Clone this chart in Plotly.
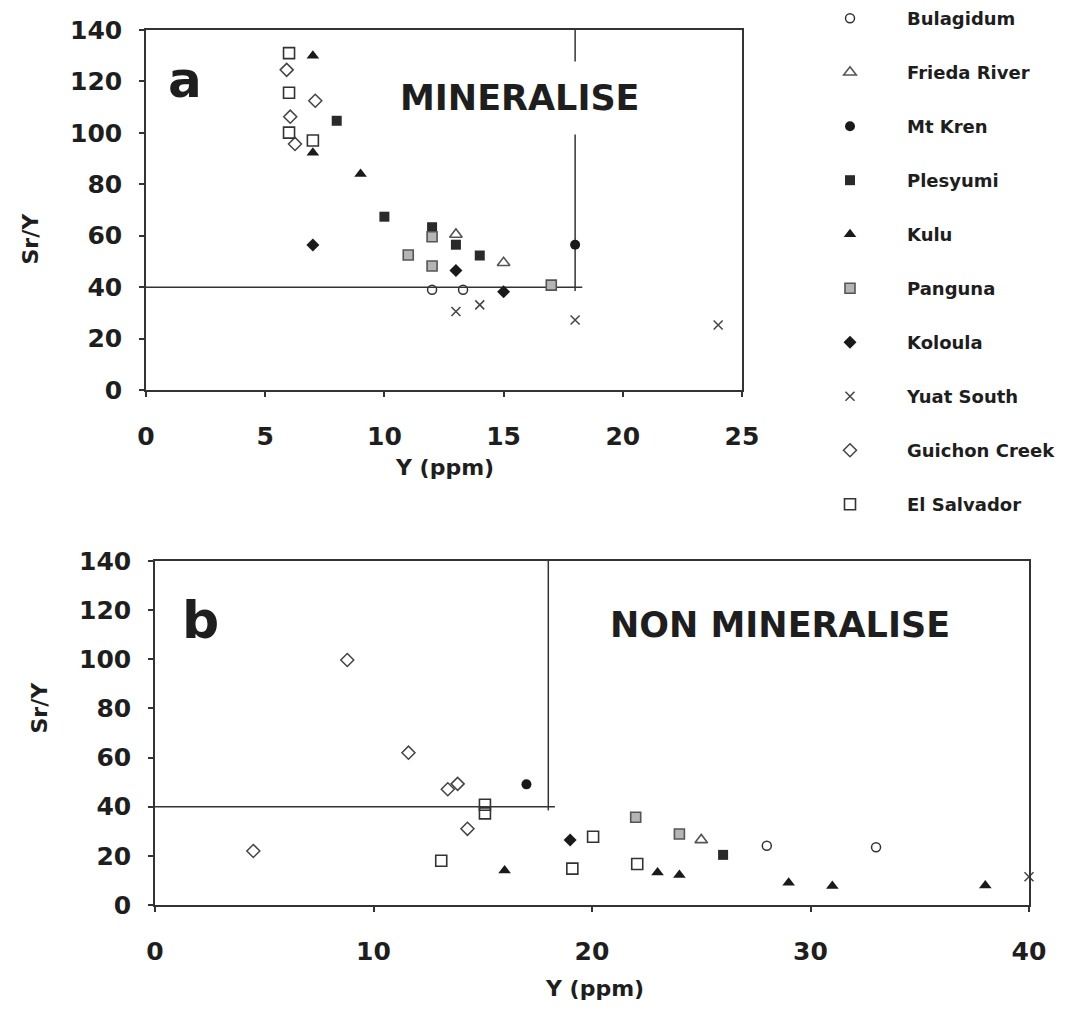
import plotly.graph_objects as go

# ---------------- data ----------------
SERIES = ["Bulagidum", "Frieda River", "Mt Kren", "Plesyumi", "Kulu",
          "Panguna", "Koloula", "Yuat South", "Guichon Creek", "El Salvador"]

# Panel a (mineralised)  -- x: Y (ppm), y: Sr/Y
a_bulagidum_x = [12.0, 13.3]
a_bulagidum_y = [39.0, 39.0]
a_frieda_x = [13.0, 15.0]
a_frieda_y = [60.5, 49.5]
a_mtkren_x = [18.0]
a_mtkren_y = [56.5]
a_plesyumi_x = [8.0, 10.0, 12.0, 13.0, 14.0]
a_plesyumi_y = [104.7, 67.4, 63.3, 56.5, 52.3]
a_kulu_x = [7.0, 7.0, 9.0]
a_kulu_y = [130.0, 92.3, 84.0]
a_panguna_x = [11.0, 12.0, 12.0, 17.0]
a_panguna_y = [52.5, 59.6, 48.2, 40.8]
a_koloula_x = [7.0, 13.0, 15.0]
a_koloula_y = [56.4, 46.5, 38.2]
a_yuat_x = [13.0, 14.0, 18.0, 24.0]
a_yuat_y = [30.5, 33.1, 27.2, 25.3]
a_guichon_x = [5.9, 7.1, 6.05, 6.25]
a_guichon_y = [124.5, 112.5, 106.3, 95.7]
a_salvador_x = [6.0, 6.0, 6.0, 7.0]
a_salvador_y = [131.0, 115.6, 100.1, 97.0]

# Panel b (non mineralised)
b_bulagidum_x = [28.0, 33.0]
b_bulagidum_y = [24.1, 23.5]
b_frieda_x = [25.0]
b_frieda_y = [26.5]
b_mtkren_x = [17.0]
b_mtkren_y = [49.1]
b_plesyumi_x = [26.0]
b_plesyumi_y = [20.4]
b_kulu_x = [16.0, 23.0, 24.0, 29.0, 31.0, 38.0]
b_kulu_y = [14.0, 13.2, 12.2, 9.1, 7.7, 7.9]
b_panguna_x = [22.0, 24.0]
b_panguna_y = [35.7, 28.9]
b_koloula_x = [19.0]
b_koloula_y = [26.5]
b_yuat_x = [40.0]
b_yuat_y = [11.5]
b_guichon_x = [4.5, 8.8, 11.6, 13.4, 13.85, 14.3]
b_guichon_y = [22.0, 99.7, 62.0, 47.1, 49.3, 31.0]
b_salvador_x = [13.1, 15.1, 15.1, 19.1, 20.05, 22.07]
b_salvador_y = [18.0, 40.8, 37.3, 14.8, 27.8, 16.7]

A_X = [a_bulagidum_x, a_frieda_x, a_mtkren_x, a_plesyumi_x, a_kulu_x,
       a_panguna_x, a_koloula_x, a_yuat_x, a_guichon_x, a_salvador_x]
A_Y = [a_bulagidum_y, a_frieda_y, a_mtkren_y, a_plesyumi_y, a_kulu_y,
       a_panguna_y, a_koloula_y, a_yuat_y, a_guichon_y, a_salvador_y]
B_X = [b_bulagidum_x, b_frieda_x, b_mtkren_x, b_plesyumi_x, b_kulu_x,
       b_panguna_x, b_koloula_x, b_yuat_x, b_guichon_x, b_salvador_x]
B_Y = [b_bulagidum_y, b_frieda_y, b_mtkren_y, b_plesyumi_y, b_kulu_y,
       b_panguna_y, b_koloula_y, b_yuat_y, b_guichon_y, b_salvador_y]

# thresholds of the boundary lines
THRESH_Y_PPM = 18
THRESH_SRY = 40

A_XTICKS = [0, 5, 10, 15, 20, 25]
B_XTICKS = [0, 10, 20, 30, 40]
Y_TICKS = [0, 20, 40, 60, 80, 100, 120, 140]

# ---------------- styles ----------------
INK = "#1e1e1e"
STYLES = {
    "Bulagidum":     dict(symbol="circle-open", size=9, color="#333", line=dict(width=1.5, color="#333")),
    "Frieda River":  dict(symbol="triangle-up-open", size=11, color="#555", line=dict(width=1.6, color="#555")),
    "Mt Kren":       dict(symbol="circle", size=10, color="#1a1a1a", line=dict(width=0)),
    "Plesyumi":      dict(symbol="square", size=10, color="#2a2a2a", line=dict(width=0)),
    "Kulu":          dict(symbol="triangle-up", size=11, color="#1a1a1a", line=dict(width=0)),
    "Panguna":       dict(symbol="square", size=10, color="#b5b5b5", line=dict(width=1.6, color="#555")),
    "Koloula":       dict(symbol="diamond", size=10, color="#1a1a1a", line=dict(width=0)),
    "Yuat South":    dict(symbol="x-thin-open", size=9, color="#444", line=dict(width=1.5, color="#444")),
    "Guichon Creek": dict(symbol="diamond-open", size=10, color="#444", line=dict(width=1.5, color="#444")),
    "El Salvador":   dict(symbol="square-open", size=11, color="#333", line=dict(width=1.6, color="#333")),
}

W, H = 1070, 1025
FONT = "DejaVu Sans"


def px_x(p):
    return p / W


def px_y(p):
    return 1 - p / H


fig = go.Figure()
for i, name in enumerate(SERIES):
    st = STYLES[name]
    fig.add_trace(go.Scatter(
        x=A_X[i], y=A_Y[i], mode="markers", name=name, legendgroup=name,
        marker=st, xaxis="x", yaxis="y", showlegend=True, cliponaxis=False))
    fig.add_trace(go.Scatter(
        x=B_X[i], y=B_Y[i], mode="markers", name=name, legendgroup=name,
        marker=st, xaxis="x2", yaxis="y2", showlegend=False, cliponaxis=False))

tickfont = dict(family=FONT, size=25, color=INK, weight="bold")
common = dict(showline=True, mirror=True, linecolor="#333", linewidth=1.5,
              ticks="outside", ticklen=5, tickwidth=1.5, tickcolor="#333",
              showgrid=False, zeroline=False, tickfont=tickfont)

fig.update_layout(
    width=W, height=H,
    margin=dict(l=0, r=0, t=0, b=0, autoexpand=False),
    paper_bgcolor="white", plot_bgcolor="white",
    xaxis=dict(domain=[px_x(146), px_x(742)], range=[0, 25], tickvals=A_XTICKS,
               anchor="y", ticklabelstandoff=18, **common),
    yaxis=dict(domain=[px_y(390), px_y(30)], range=[0, 140], tickvals=Y_TICKS,
               anchor="x", ticklabelstandoff=12, **common),
    xaxis2=dict(domain=[px_x(155), px_x(1029)], range=[0, 40], tickvals=B_XTICKS,
                anchor="y2", ticklabelstandoff=18, **common),
    yaxis2=dict(domain=[px_y(905), px_y(561)], range=[0, 140], tickvals=Y_TICKS,
                anchor="x2", ticklabelstandoff=12, **common),
    legend=dict(x=px_x(793), xanchor="left", y=1.0, yanchor="top",
                font=dict(family=FONT, size=18, color=INK, weight="bold"),
                itemwidth=104, tracegroupgap=27.6, bgcolor="rgba(0,0,0,0)",
                borderwidth=0),
    showlegend=True,
)

# boundary lines (Y = 18 ppm, Sr/Y = 40)
for xr, yr in (("x", "y"), ("x2", "y2")):
    fig.add_shape(type="line", xref=xr, yref=yr, x0=0, x1=THRESH_Y_PPM + 0.3,
                  y0=THRESH_SRY, y1=THRESH_SRY, line=dict(color="#333", width=1.5), layer="below")
    fig.add_shape(type="line", xref=xr, yref=yr, x0=THRESH_Y_PPM, x1=THRESH_Y_PPM,
                  y0=THRESH_SRY - 1.5, y1=140, line=dict(color="#333", width=1.5), layer="below")

big = dict(family=FONT, color=INK, weight="bold")
fig.add_annotation(xref="x", yref="y", x=1.64, y=120.6, text="a", showarrow=False,
                   font=dict(size=50, **big))
fig.add_annotation(xref="x", yref="y", x=15.7, y=113.6, text="MINERALISE", showarrow=False,
                   font=dict(size=35, **big), bgcolor="white", borderpad=16)
fig.add_annotation(xref="x2", yref="y2", x=2.1, y=116, text="b", showarrow=False,
                   font=dict(size=52, **big))
fig.add_annotation(xref="x2", yref="y2", x=28.6, y=114, text="NON MINERALISE", showarrow=False,
                   font=dict(size=35, **big))

# axis titles
tfont = dict(family=FONT, size=22, color=INK, weight="bold")
fig.add_annotation(xref="paper", yref="paper", x=px_x(444), y=px_y(468), text="Y (ppm)",
                   showarrow=False, font=tfont)
fig.add_annotation(xref="paper", yref="paper", x=px_x(594), y=px_y(1003), text="Y (ppm)",
                   showarrow=False, font=tfont)
fig.add_annotation(xref="paper", yref="paper", x=px_x(16), y=px_y(211), text="Sr/Y",
                   showarrow=False, font=tfont, textangle=-90)
fig.add_annotation(xref="paper", yref="paper", x=px_x(24), y=px_y(736), text="Sr/Y",
                   showarrow=False, font=tfont, textangle=-90)

fig.write_html("out.html", config={"displayModeBar": False},
               post_script="document.body.style.margin='0';")
